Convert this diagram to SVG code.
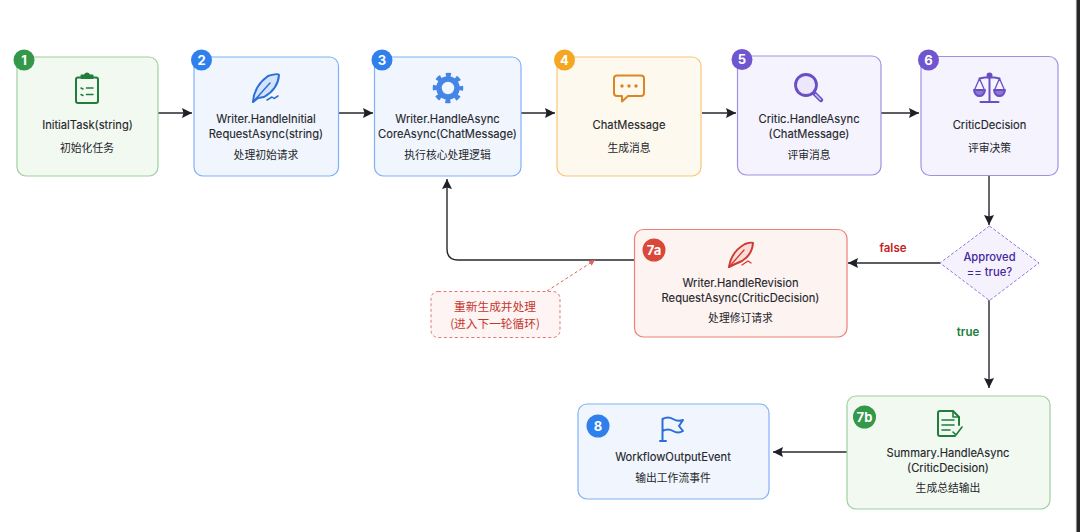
<svg xmlns="http://www.w3.org/2000/svg" width="1080" height="532" viewBox="0 0 1080 532">
<style>
text{font-family:"Inter","Noto Sans CJK SC",sans-serif;text-anchor:middle}
.t{font-size:11.2px;fill:#24262b;font-weight:400;stroke:#24262b;stroke-width:.12px}
.c{font-size:10.8px;fill:#24262b;font-family:"Noto Sans CJK SC",sans-serif}
.n{font-size:11.7px;fill:#c5362e;font-family:"Noto Sans CJK SC",sans-serif}
.b{font-size:13px;font-weight:700;fill:#fff}
.box{stroke-width:1.2}
.g{fill:#f2f9f1;stroke:#9fd09f}.bl{fill:#f1f6fe;stroke:#7fb1f5}.o{fill:#fef9ee;stroke:#f8c67a}.p{fill:#f5f3fe;stroke:#a58fe3}.r{fill:#fdf3f1;stroke:#ec827b}
.ln{fill:none;stroke:#25282e;stroke-width:1.4}
.ic{fill:none;stroke-width:2;stroke-linecap:round;stroke-linejoin:round}
.d{font-size:11.2px;font-weight:500;fill:#4527a0}
</style>
<defs>
<marker id="a" markerWidth="12" markerHeight="12" refX="10" refY="5" orient="auto" markerUnits="userSpaceOnUse"><path d="M0 0L10 5L0 10L1.500 5Z" fill="#1d2026"/></marker>
<marker id="ar" markerWidth="8" markerHeight="8" refX="6" refY="3" orient="auto" markerUnits="userSpaceOnUse"><path d="M0 0L6 3L0 6Z" fill="#e0645c"/></marker>
</defs>
<rect width="1080" height="532" fill="#fff"/>
<rect x="1075" width="2" height="532" fill="#f4f4f4"/>
<rect x="1076.500" width="3.500" height="532" fill="#25272a"/>
<g id="connectors">
<path class="ln" marker-end="url(#a)" d="M158 113H192"/>
<path class="ln" marker-end="url(#a)" d="M339 113H373"/>
<path class="ln" marker-end="url(#a)" d="M521 113H555"/>
<path class="ln" marker-end="url(#a)" d="M702 113H736"/>
<path class="ln" marker-end="url(#a)" d="M881 113H919"/>
<path class="ln" marker-end="url(#a)" d="M989 176V225"/>
<path class="ln" marker-end="url(#a)" d="M940 263H848"/>
<path class="ln" marker-end="url(#a)" d="M989 300V388"/>
<path class="ln" marker-end="url(#a)" d="M847 452H773"/>
<path class="ln" marker-end="url(#a)" d="M634 260H458Q447 260 447 249V179"/>
<path fill="none" stroke="#e0645c" stroke-dasharray="3 2.500" marker-end="url(#ar)" d="M547 291L595 260"/>
<text x="893" y="252" style="font-size:11.500px;font-weight:600;fill:#c5221f">false</text>
<text x="968" y="336" style="font-size:11.500px;font-weight:600;fill:#188038">true</text>
</g>
<g id="n1">
<rect class="box g" x="17" y="57" width="141" height="119" rx="9"/>
<circle cx="24" cy="60" r="10.500" fill="#34984a"/><text class="b" x="24" y="64.600">1</text>
<g class="ic" stroke="#1e7e3a"><rect x="76" y="77.500" width="22" height="25.500" rx="2"/><path d="M81.500 78V75.500H84.500Q87 71.500 89.500 75.500H92.500V78Z" fill="#1e7e3a"/><path d="M81 88L83 89M86.500 88H93M81 94.500L83 95.500M86.500 94.500H93" stroke-width="1.500"/></g>
<text class="t" x="87.500" y="129">InitialTask(string)</text>
<text class="c" x="87" y="152">初始化任务</text>
</g>
<g id="n2">
<rect class="box bl" x="194" y="57" width="144.500" height="119" rx="9"/>
<circle cx="201.500" cy="60" r="10.500" fill="#2f80ed"/><text class="b" x="201.500" y="64.600">2</text>
<g class="ic" stroke="#2b6fd6" stroke-width="1.800"><path d="M253 102Q254 86 268 76Q278 73 279 75Q278 89 264 97L258 98Z" fill="#d3e3fb"/><path d="M253 102L270 83M267 100L272 97L274 98.500L278 96" stroke-width="1.500"/></g>
<text class="t" x="266" y="123">Writer.HandleInitial</text>
<text class="t" x="266" y="138">RequestAsync(string)</text>
<text class="c" x="266" y="159">处理初始请求</text>
</g>
<g id="n3">
<rect class="box bl" x="374.500" y="57" width="146.500" height="119" rx="9"/>
<circle cx="382" cy="60" r="10.500" fill="#2f80ed"/><text class="b" x="382" y="64.600">3</text>
<circle cx="448" cy="88" r="9" fill="none" stroke="#4585e6" stroke-width="5.500"/>
<circle cx="448" cy="88" r="13" fill="none" stroke="#4585e6" stroke-width="4.500" stroke-dasharray="5 5.210" stroke-dashoffset="2.500"/>
<text class="t" x="447.500" y="123">Writer.HandleAsync</text>
<text class="t" x="447.500" y="138">CoreAsync(ChatMessage)</text>
<text class="c" x="447.500" y="159">执行核心处理逻辑</text>
</g>
<g id="n4">
<rect class="box o" x="557" y="57" width="144" height="119" rx="9"/>
<circle cx="564.500" cy="60" r="10.500" fill="#f5a623"/><text class="b" x="564.500" y="64.600">4</text>
<path class="ic" stroke="#dd8520" d="M617 75.500H641Q644 75.500 644 78.500V93Q644 96 641 96H628L622 101.500V96H617Q614 96 614 93V78.500Q614 75.500 617 75.500Z"/>
<g fill="#dd8520"><circle cx="622" cy="86" r="1.700"/><circle cx="629" cy="86" r="1.700"/><circle cx="636" cy="86" r="1.700"/></g>
<text class="t" x="629" y="129">ChatMessage</text>
<text class="c" x="629" y="152">生成消息</text>
</g>
<g id="n5">
<rect class="box p" x="737.500" y="56" width="143.500" height="119" rx="9"/>
<circle cx="742" cy="59.500" r="10.500" fill="#6f55d0"/><text class="b" x="742" y="64">5</text>
<circle cx="806" cy="85" r="10.500" fill="#ece7fb" stroke="#6a4fc4" stroke-width="2.800"/>
<path d="M814.500 93.500L821 100" stroke="#6a4fc4" stroke-width="4.500" stroke-linecap="round"/>
<path d="M815.500 94.500L820.500 99.500" stroke="#cfc4f2" stroke-width="1.500" stroke-linecap="round"/>
<text class="t" x="809" y="123">Critic.HandleAsync</text>
<text class="t" x="809" y="138">(ChatMessage)</text>
<text class="c" x="809" y="159">评审消息</text>
</g>
<g id="n6">
<rect class="box p" x="921" y="56.500" width="137" height="119" rx="9"/>
<circle cx="928.500" cy="60" r="10.500" fill="#6f55d0"/><text class="b" x="928.500" y="64.600">6</text>
<g class="ic" stroke="#6a4fc4" stroke-width="1.700"><path d="M989.500 76V101M980.500 102H998.500M979.500 78.500Q989.500 76 999.500 78.500" stroke-width="2"/><circle cx="989.500" cy="75.500" r="2" fill="#6a4fc4"/><path d="M979.500 78.500L974.500 90M979.500 78.500L984.500 90M999.500 78.500L994.500 90M999.500 78.500L1004.500 90" stroke-width="1.300"/><path d="M974 90H985Q984 96 979.500 96Q975 96 974 90ZM994 90H1005Q1004 96 999.500 96Q995 96 994 90Z" fill="#8d76d8"/></g>
<text class="t" x="989.500" y="129">CriticDecision</text>
<text class="c" x="989.500" y="152">评审决策</text>
</g>
<g id="decision">
<path d="M989.500 226L1039 263L989.500 300.500L940 263Z" fill="#f5f2fe" stroke="#8f76dc" stroke-dasharray="3 2"/>
<text class="d" x="989.500" y="261">Approved</text>
<text class="d" x="989.500" y="275.500">== true?</text>
</g>
<g id="n7a">
<rect class="box r" x="634.500" y="229.500" width="212.500" height="107.500" rx="9"/>
<circle cx="654" cy="250" r="11.500" fill="#d9483b"/><text class="b" x="654" y="254.600">7a</text>
<g class="ic" stroke="#cf3a30" stroke-width="1.600"><path d="M729 267Q731 252 745 244Q752 242 753 243Q752 255 742 261L733 265Z" fill="#fbdcd9"/><path d="M729 267L744 250M742 265L748 261L751 263" stroke-width="1.300"/></g>
<text class="t" x="740.500" y="287">Writer.HandleRevision</text>
<text class="t" x="740.500" y="301.500">RequestAsync(CriticDecision)</text>
<text class="c" x="740.500" y="322">处理修订请求</text>
</g>
<g id="note">
<rect x="431" y="291.500" width="129" height="46" rx="7" fill="#fdf4f3" stroke="#e8776f" stroke-dasharray="3 2.500"/>
<text class="n" x="495" y="311">重新生成并处理</text>
<text class="n" x="495" y="327.500">(进入下一轮循环)</text>
</g>
<g id="n7b">
<rect class="box g" x="847" y="396" width="203" height="113" rx="9"/>
<circle cx="864.500" cy="417" r="11.500" fill="#34984a"/><text class="b" x="864.500" y="421.600">7b</text>
<g class="ic" stroke="#1e7e3a" stroke-width="2"><path d="M955 436H940Q938 436 938 434V413Q938 411 940 411H953L959 417V425"/><path d="M953 411V417H959M942 420H954M942 425H954M942 430H950M953 432L956 435L962 427" stroke-width="1.600"/></g>
<text class="t" x="948" y="456.500">Summary.HandleAsync</text>
<text class="t" x="948" y="471.500">(CriticDecision)</text>
<text class="c" x="948" y="492">生成总结输出</text>
</g>
<g id="n8">
<rect class="box bl" x="578" y="404" width="191" height="95" rx="9"/>
<circle cx="598" cy="426" r="11.500" fill="#2f80ed"/><text class="b" x="598" y="430.600">8</text>
<g class="ic" stroke="#2b6fd6" stroke-width="1.700"><path d="M662.500 441V419M660 441H666M662.500 419Q668 416 673 419Q678 422 683 420L679 426L683 431Q678 434 673 431Q668 428 662.500 431"/></g>
<text class="t" x="673" y="461">WorkflowOutputEvent</text>
<text class="c" x="673" y="482">输出工作流事件</text>
</g>
</svg>
